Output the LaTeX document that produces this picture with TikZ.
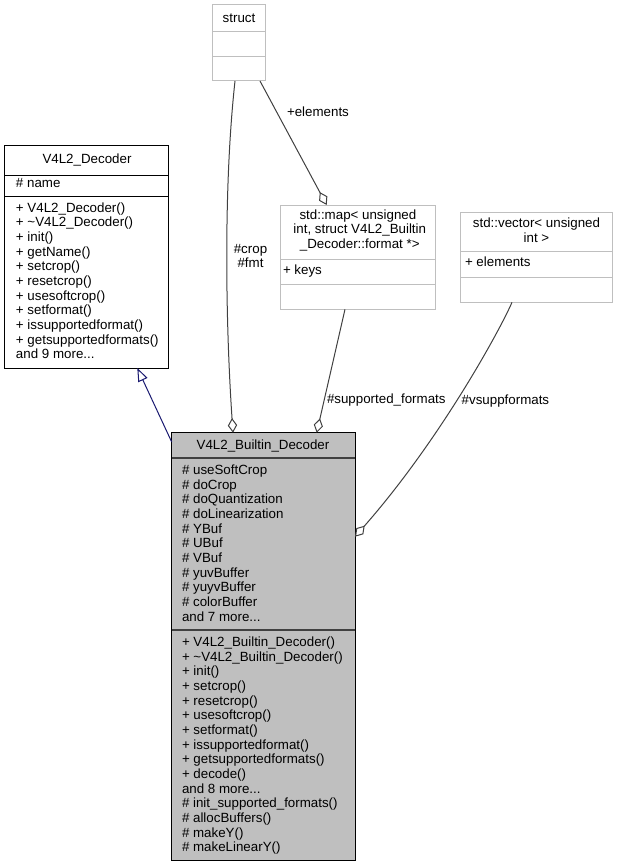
\documentclass[tikz,border=0pt]{standalone}
\usepackage{fontspec}
\setmainfont{Liberation Sans}
\usetikzlibrary{arrows.meta,calc,fit}
\definecolor{edgegray}{HTML}{404040}
\definecolor{lightborder}{HTML}{BFBFBF}
\definecolor{mainfill}{HTML}{BFBFBF}
\definecolor{inhblue}{HTML}{191970}
\begin{document}
\begin{tikzpicture}[x=0.75pt,y=-0.75pt,
  every node/.style={font=\fontsize{10pt}{11pt}\selectfont, inner sep=0pt, outer sep=0pt},
  lightbox/.style={draw=lightborder, line width=0.75pt, fill=white},
  darkbox/.style={draw=black, line width=0.75pt, fill=white},
  mainbox/.style={draw=black, line width=0.75pt, fill=mainfill},
  lightdiv/.style={draw=lightborder, line width=0.75pt},
  darkdiv/.style={draw=black, line width=0.75pt},
  maindiv/.style={draw=black!75, line width=1.4pt},
  txt/.style={anchor=base west, align=left},
  ttl/.style={anchor=base, align=center},
  aggr/.style={draw=edgegray, line width=0.75pt, {Diamond[open,fill=white,length=11pt,width=7pt]}-},
  inherit/.style={draw=inhblue, line width=0.75pt, -{Triangle[open,fill=white,length=10pt,width=7.5pt]}},
  lbl/.style={anchor=base west}
]
\useasboundingbox (0,0) rectangle (618,867);

% struct
\node[lightbox, fit={(212.7,5) (265.3,81)}] (struct) {};
\draw[lightdiv] (212.7,31.7) -- (265.3,31.7);
\draw[lightdiv] (212.7,56.7) -- (265.3,56.7);
\node[ttl] (structT) at (239,23) {struct};

% V4L2_Decoder (multi-line nodes: base = last line)
\node[darkbox, fit={(4.5,145) (168.5,368)}] (decoder) {};
\draw[darkdiv] (4.5,175) -- (168.5,175);
\draw[darkdiv] (4.5,196) -- (168.5,196);
\node[ttl] (decoderT) at (87,163.3) {V4L2\_Decoder};
\node[txt] (decoderA) at (16,187.5) {\# name};
\node[txt] (decoderM) at (16,358.7) {+ V4L2\_Decoder()\\+ \textasciitilde V4L2\_Decoder()\\+ init()\\+ getName()\\+ setcrop()\\+ resetcrop()\\+ usesoftcrop()\\+ setformat()\\+ issupportedformat()\\+ getsupportedformats()\\and 9 more...};

% std::map
\node[lightbox, fit={(280,205) (435.7,309.3)}] (map) {};
\draw[lightdiv] (280,259.3) -- (435.7,259.3);
\draw[lightdiv] (280,284.3) -- (435.7,284.3);
\node[ttl] (mapT) at (357.9,248.6) {std::map< unsigned\\\ int, struct V4L2\_Builtin\\\ \_Decoder::format *>};
\node[txt] (mapA) at (283,274.3) {+ keys};

% std::vector
\node[lightbox, fit={(460.7,212.3) (612.3,302.3)}] (vector) {};
\draw[lightdiv] (460.7,251.7) -- (612.3,251.7);
\draw[lightdiv] (460.7,277.3) -- (612.3,277.3);
\node[ttl] (vectorT) at (536.5,242.4) {std::vector< unsigned\\int >};
\node[txt] (vectorA) at (465,266.7) {+ elements};

% V4L2_Builtin_Decoder
\node[mainbox, fit={(171.7,432.7) (355,860)}] (main) {};
\draw[maindiv] (171.7,457.7) -- (355,457.7);
\draw[maindiv] (171.7,630) -- (355,630);
\node[ttl] (mainT) at (263,449.3) {V4L2\_Builtin\_Decoder};
\node[txt] (mainA) at (182,621) {\# useSoftCrop\\\# doCrop\\\# doQuantization\\\# doLinearization\\\# YBuf\\\# UBuf\\\# VBuf\\\# yuvBuffer\\\# yuyvBuffer\\\# colorBuffer\\and 7 more...};
\node[txt] (mainM) at (182,851.7) {+ V4L2\_Builtin\_Decoder()\\+ \textasciitilde V4L2\_Builtin\_Decoder()\\+ init()\\+ setcrop()\\+ resetcrop()\\+ usesoftcrop()\\+ setformat()\\+ issupportedformat()\\+ getsupportedformats()\\+ decode()\\and 8 more...\\\# init\_supported\_formats()\\\# allocBuffers()\\\# makeY()\\\# makeLinearY()};

% connectors
\draw[inherit] ($(main.north west)+(0,9.3)$) -- ($(decoder.south west)+(132.8,0)$);
\draw[aggr] ($(main.north west)+(61.3,0)$) .. controls (226,330) and (223,190) .. ($(struct.south)+(-4,0)$);
\draw[aggr] ($(map.north west)+(46.7,0)$) -- ($(struct.south)+(21,0)$);
\draw[aggr] ($(main.north west)+(145,0)$) -- ($(map.south west)+(65,0)$);
\draw[aggr] ($(main.north east)+(0,104)$) .. controls (440,440) and (500,330) .. ($(vector.south west)+(51.3,0)$);

% connector labels
\node[ttl] (lblcrop) at (250.5,267.7) {\#crop\\\#fmt};
\node[lbl] (lblelem) at (287,116) {+elements};
\node[lbl] (lblsupp) at (327,403.5) {\#supported\_formats};
\node[lbl] (lblvsupp) at (461.7,404) {\#vsuppformats};
\end{tikzpicture}
\end{document}
